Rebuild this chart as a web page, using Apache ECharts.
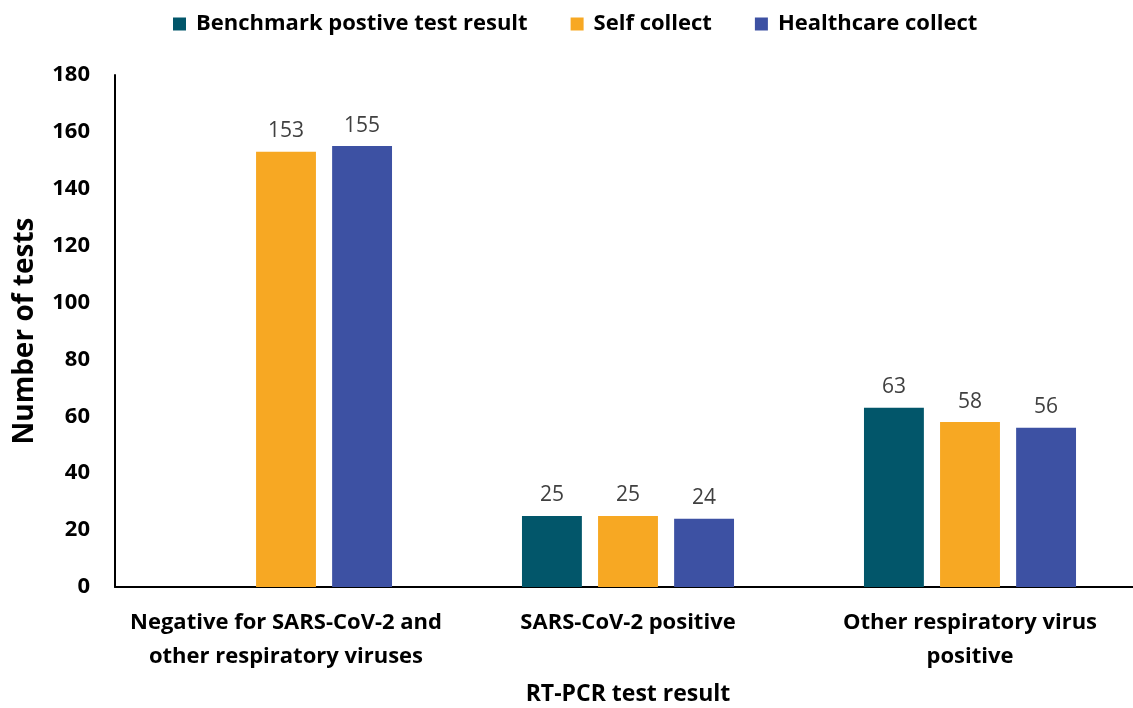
<!DOCTYPE html>
<html><head><meta charset="utf-8">
<script src="https://cdn.jsdelivr.net/npm/echarts@6/dist/echarts.min.js"></script>
<style>html,body{margin:0;padding:0;background:#fff}#c{width:1133px;height:708px}</style>
</head><body><div id="c"></div>
<script>
const categories = ['Negative for SARS-CoV-2 and\nother respiratory viruses', 'SARS-CoV-2 positive', 'Other respiratory virus\npositive'];
const benchmark = [null, 25, 63];
const selfCollect = [153, 25, 58];
const healthcare = [155, 24, 56];
const yTicks = [0, 20, 40, 60, 80, 100, 120, 140, 160, 180];

const FONT = 'Open Sans';
const chart = echarts.init(document.getElementById('c'), null, {renderer: 'canvas'});
const lbl = {show: true, position: 'top', distance: 10, color: '#404040', fontFamily: FONT, fontSize: 21};
function s(name, data, color) {
  return {name, type: 'bar', data, itemStyle: {color}, label: lbl, barGap: '27%', barCategoryGap: '38%'};
}
chart.setOption({
  animation: false,
  textStyle: {fontFamily: FONT},
  legend: {
    top: 8, left: 168, itemWidth: 13, itemHeight: 13, itemGap: 43,
    icon: 'rect',
    textStyle: {fontFamily: FONT, fontWeight: 'bold', fontSize: 22, color: '#000', padding: [0, 0, 0, 5]},
    data: ['Benchmark postive test result', 'Self collect', 'Healthcare collect']
  },
  grid: {left: 115, width: 1026, top: 75, bottom: 121, containLabel: false, outerBoundsMode: 'none'},
  xAxis: {
    type: 'category', data: categories,
    axisLine: {lineStyle: {color: '#000', width: 2}},
    axisTick: {show: false},
    axisLabel: {interval: 0, margin: 19, fontFamily: FONT, fontWeight: 'bold', fontSize: 22, color: '#000', lineHeight: 34},
    name: 'RT-PCR test result', nameLocation: 'middle', nameGap: 96,
    nameTextStyle: {fontFamily: FONT, fontWeight: 'bold', fontSize: 23, color: '#000'}
  },
  yAxis: {
    type: 'value', min: yTicks[0], max: yTicks[yTicks.length - 1], interval: yTicks[1] - yTicks[0],
    axisLine: {show: true, lineStyle: {color: '#000', width: 2}},
    axisTick: {show: false},
    splitLine: {show: false},
    axisLabel: {margin: 25, fontFamily: FONT, fontWeight: 'bold', fontSize: 22, color: '#000'},
    name: 'Number of tests', nameLocation: 'middle', nameGap: 76, nameRotate: 90,
    nameTextStyle: {fontFamily: FONT, fontWeight: 'bold', fontSize: 28, color: '#000'}
  },
  series: [
    s('Benchmark postive test result', benchmark, '#02566A'),
    s('Self collect', selfCollect, '#F7A823'),
    s('Healthcare collect', healthcare, '#3D51A3')
  ]
});
</script></body></html>
